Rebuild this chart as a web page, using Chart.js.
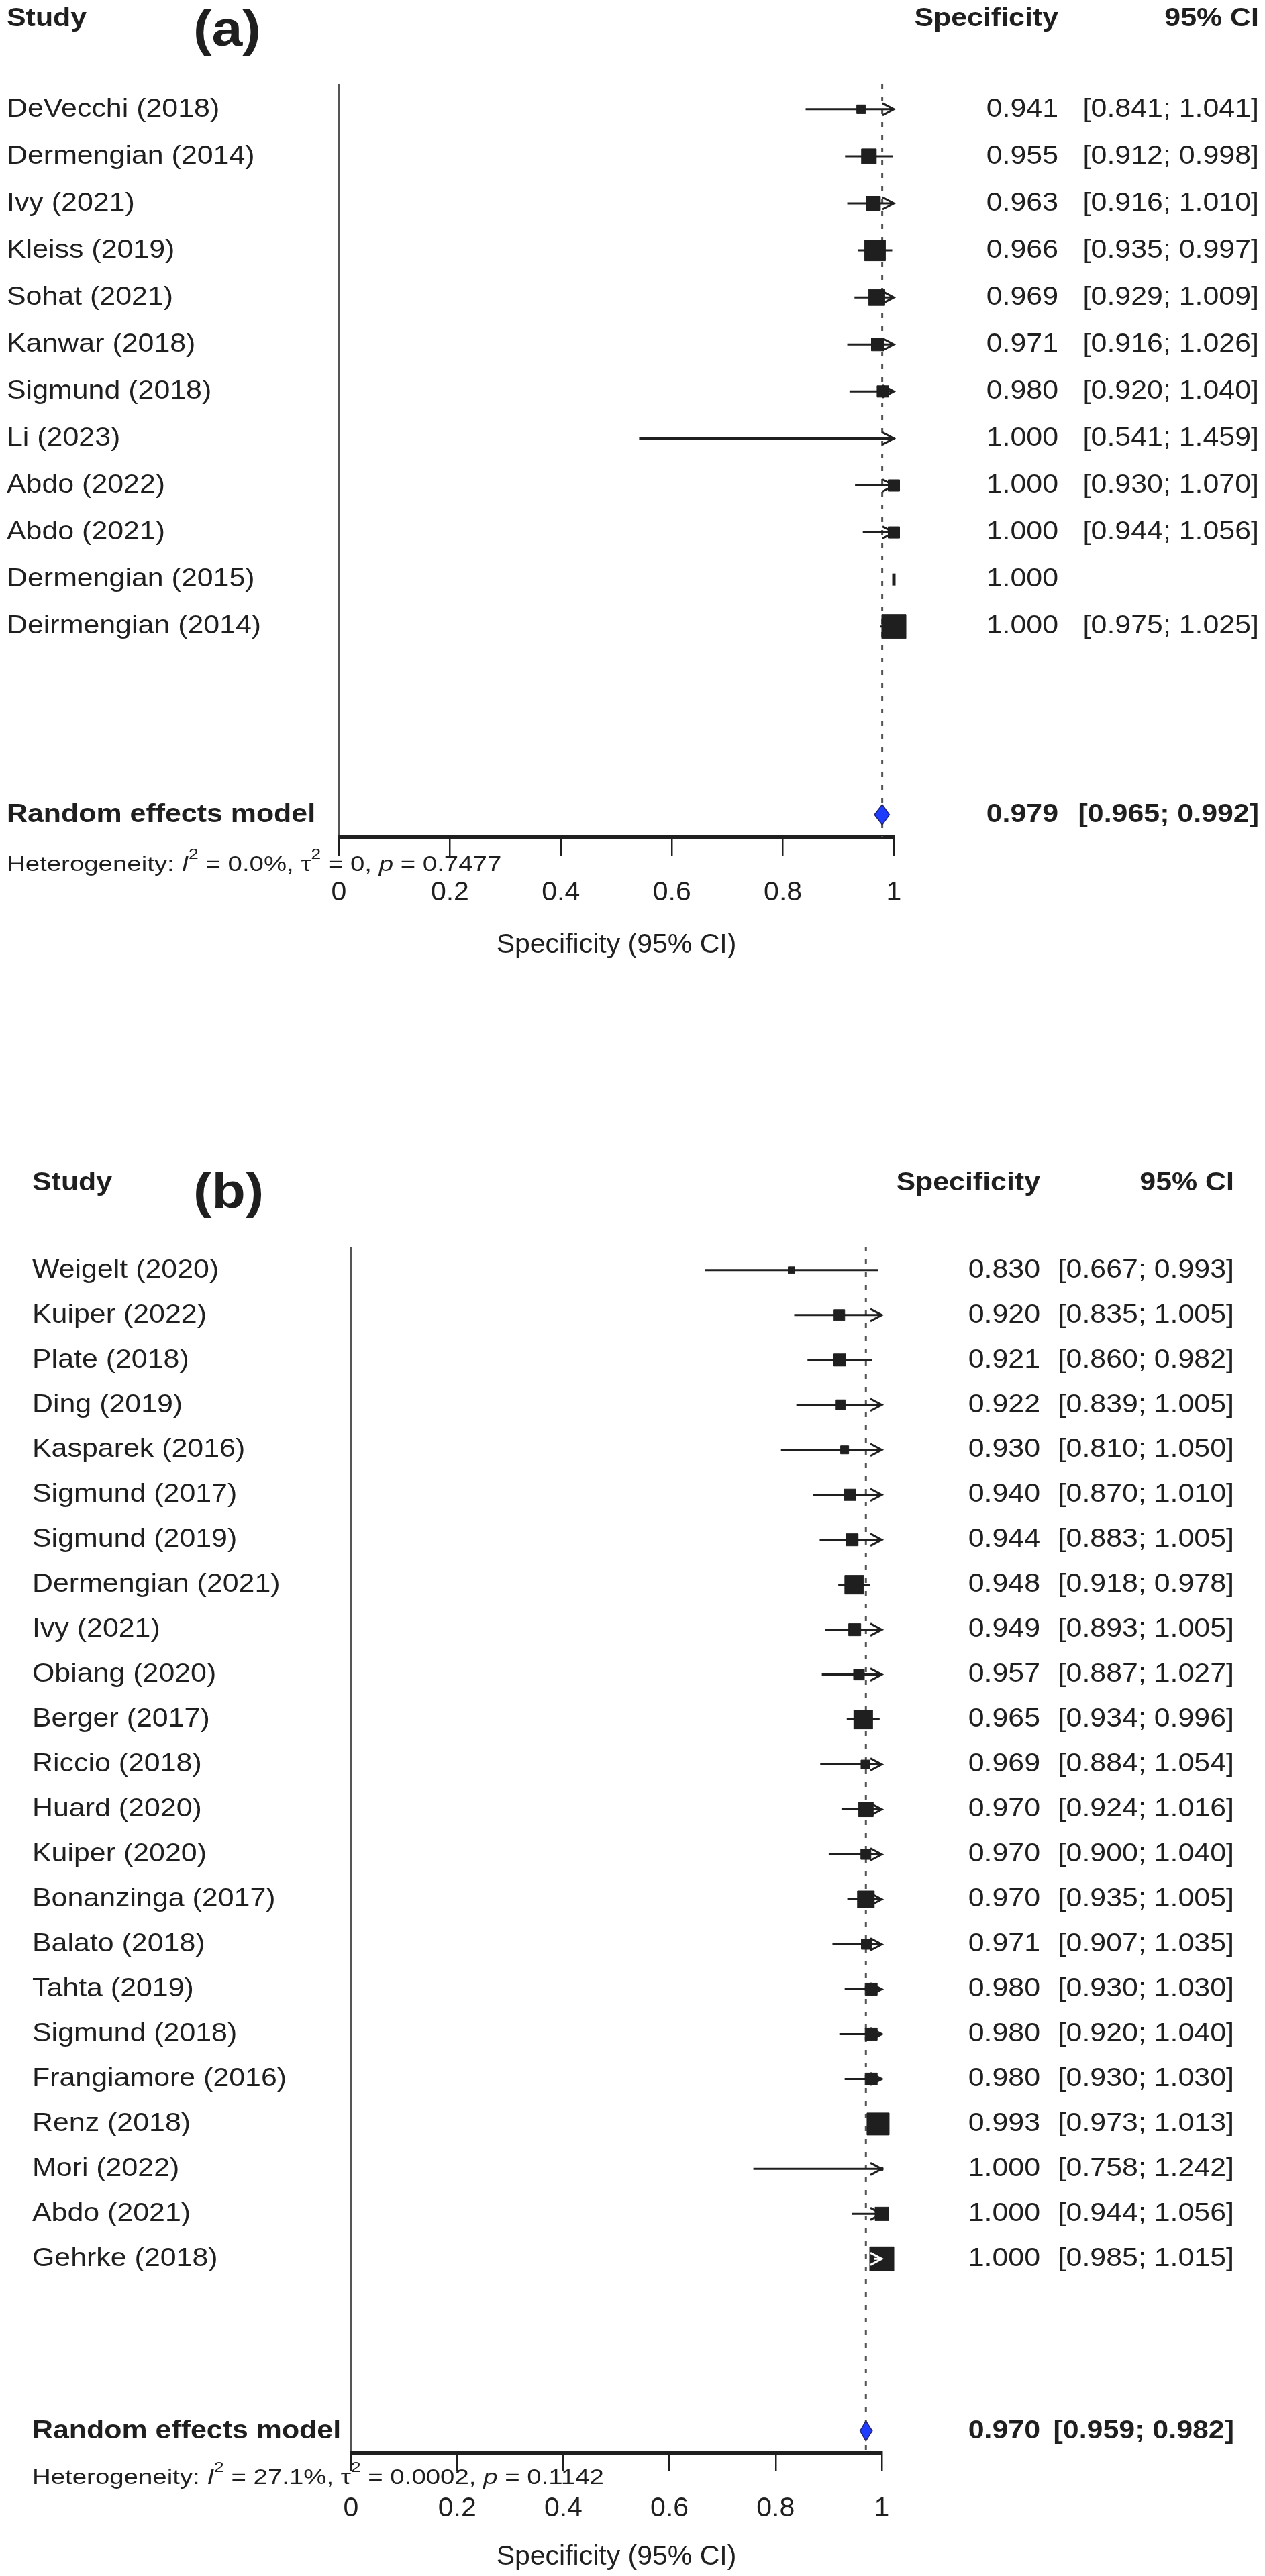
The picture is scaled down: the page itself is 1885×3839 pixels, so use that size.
<!DOCTYPE html>
<html lang="en">
<head>
  <meta charset="UTF-8">
  <title>Forest plot - Specificity</title>
  <script src="https://cdn.jsdelivr.net/npm/chart.js"></script>
  <style>
    html, body { margin: 0; padding: 0; background: #fff; }
    body { width: 1885px; height: 3839px; position: relative; overflow: hidden; }
    canvas { position: absolute; left: 0; }
    #plotA { top: 0; }
    #plotB { top: 1680px; }
  </style>
</head>
<body>
<canvas id="plotA" width="1885" height="1480"></canvas>
<canvas id="plotB" width="1885" height="2159"></canvas>

<script>
// ---- data (a) ----
const studiesA = ["DeVecchi (2018)", "Dermengian (2014)", "Ivy (2021)", "Kleiss (2019)", "Sohat (2021)",
  "Kanwar (2018)", "Sigmund (2018)", "Li (2023)", "Abdo (2022)", "Abdo (2021)", "Dermengian (2015)", "Deirmengian (2014)"];
const specA  = [0.941, 0.955, 0.963, 0.966, 0.969, 0.971, 0.980, 1.000, 1.000, 1.000, 1.000, 1.000];
const lowerA = [0.841, 0.912, 0.916, 0.935, 0.929, 0.916, 0.920, 0.541, 0.930, 0.944, null, 0.975];
const upperA = [1.041, 0.998, 1.010, 0.997, 1.009, 1.026, 1.040, 1.459, 1.070, 1.056, null, 1.025];
const weightA = [3.3, 9.4, 8.5, 18.6, 11.2, 7.0, 5.6, 0.2, 5.6, 5.6, 0, 25.1];
const pooledA = [0.979, 0.965, 0.992];
const hetA = ["0.0%", "0", "0.7477"];

// ---- data (b) ----
const studiesB = ["Weigelt (2020)", "Kuiper (2022)", "Plate (2018)", "Ding (2019)", "Kasparek (2016)",
  "Sigmund (2017)", "Sigmund (2019)", "Dermengian (2021)", "Ivy (2021)", "Obiang (2020)", "Berger (2017)",
  "Riccio (2018)", "Huard (2020)", "Kuiper (2020)", "Bonanzinga (2017)", "Balato (2018)", "Tahta (2019)",
  "Sigmund (2018)", "Frangiamore (2016)", "Renz (2018)", "Mori (2022)", "Abdo (2021)", "Gehrke (2018)"];
const specB  = [0.830, 0.920, 0.921, 0.922, 0.930, 0.940, 0.944, 0.948, 0.949, 0.957, 0.965, 0.969,
  0.970, 0.970, 0.970, 0.971, 0.980, 0.980, 0.980, 0.993, 1.000, 1.000, 1.000];
const lowerB = [0.667, 0.835, 0.860, 0.839, 0.810, 0.870, 0.883, 0.918, 0.893, 0.887, 0.934, 0.884,
  0.924, 0.900, 0.935, 0.907, 0.930, 0.920, 0.930, 0.973, 0.758, 0.944, 0.985];
const upperB = [0.993, 1.005, 0.982, 1.005, 1.050, 1.010, 1.005, 0.978, 1.005, 1.027, 0.996, 1.054,
  1.016, 1.040, 1.005, 1.035, 1.030, 1.040, 1.030, 1.013, 1.242, 1.056, 1.015];
const weightB = [1.07, 2.75, 3.48, 2.42, 1.55, 3.10, 3.48, 8.42, 3.48, 2.75, 8.42, 1.82,
  5.20, 2.42, 6.71, 2.42, 3.48, 3.48, 3.48, 11.70, 0.17, 4.30, 13.92];
const pooledB = [0.970, 0.959, 0.982];
const hetB = ["27.1%", "0.0002", "0.1142"];

const xTicks = [0, 0.2, 0.4, 0.6, 0.8, 1];

const FONT = '"Liberation Sans", Arial, Helvetica, sans-serif';
const INK = '#1f1f1f';
const SX = 1.1;   // text in the picture is a little wide

function txt(ctx, s, x, y, align, font, base) {
  ctx.save();
  ctx.font = font;
  ctx.fillStyle = INK;
  ctx.textAlign = align;
  ctx.textBaseline = base || 'middle';
  ctx.translate(x, y);
  ctx.scale(SX, 1);
  ctx.fillText(s, 0, 0);
  ctx.restore();
}

function ciText(lo, hi) {
  if (lo == null) return '';
  return '[' + lo.toFixed(3) + '; ' + hi.toFixed(3) + ']';
}

// CI line, clipped at the axis end, with an open arrow when it runs past
function ciPath(ctx, x, y, lo, hi, row) {
  const py = y.getPixelForValue(row);
  const x0 = x.getPixelForValue(Math.max(lo, x.min));
  const x1 = x.getPixelForValue(Math.min(hi, x.max));
  ctx.beginPath();
  ctx.moveTo(x0, py);
  ctx.lineTo(x1, py);
  if (hi > x.max) {
    ctx.moveTo(x1 - 17, py - 9);
    ctx.lineTo(x1, py);
    ctx.lineTo(x1 - 17, py + 9);
  }
  ctx.stroke();
}

function drawHet(ctx, x0, yb, het) {
  const size = 32;
  const parts = [
    ['Heterogeneity: ', '', 0], ['I', 'italic ', 0], ['2', '', 1], [' = ' + het[0] + ', ', '', 0],
    ['\u03c4', '', 0], ['2', '', 1], [' = ' + het[1] + ', ', '', 0], ['p', 'italic ', 0], [' = ' + het[2], '', 0]
  ];
  ctx.save();
  ctx.fillStyle = INK;
  ctx.textBaseline = 'alphabetic';
  ctx.translate(x0, yb);
  ctx.scale(1.2, 1);
  let cx = 0;
  parts.forEach(([s, st, sup]) => {
    const fs = sup ? Math.round(size * 0.7) : size;
    ctx.font = st + fs + 'px ' + FONT;
    ctx.fillText(s, cx, sup ? -size * 0.55 : 0);
    cx += ctx.measureText(s).width;
  });
  ctx.restore();
}

const forestPlugin = {
  id: 'forest',
  beforeDatasetsDraw(chart, args, o) {
    const { ctx, chartArea: area, scales: { x, y } } = chart;
    // dotted line at the pooled estimate
    const px = x.getPixelForValue(o.pooled[0]);
    ctx.save();
    ctx.strokeStyle = '#555';
    ctx.lineWidth = 3;
    ctx.setLineDash([7, 12]);
    ctx.beginPath();
    ctx.moveTo(px, area.top);
    ctx.lineTo(px, area.bottom);
    ctx.stroke();
    ctx.restore();

    ctx.save();
    ctx.strokeStyle = INK;
    ctx.lineWidth = 3;
    o.lower.forEach((lo, i) => {
      if (lo == null) return;
      ciPath(ctx, x, y, lo, o.upper[i], i);
    });
    ctx.restore();
  },
  afterDatasetsDraw(chart, args, o) {
    const { ctx, scales: { x, y } } = chart;
    // CI that sits well inside its box is drawn white
    ctx.save();
    ctx.strokeStyle = '#fff';
    ctx.lineWidth = 3;
    o.lower.forEach((lo, i) => {
      if (lo == null) return;
      const half = o.boxScale * Math.sqrt(o.weight[i]) / 2 - 3;
      const c = x.getPixelForValue(o.est[i]);
      const a = x.getPixelForValue(lo);
      const b = x.getPixelForValue(Math.min(o.upper[i], x.max));
      if (a >= c - half && b <= c + half + 3) ciPath(ctx, x, y, lo, o.upper[i], i);
    });
    ctx.restore();

    // pooled diamond
    const py = y.getPixelForValue(o.pooledRow);
    const pe = x.getPixelForValue(o.pooled[0]);
    const pl = x.getPixelForValue(o.pooled[1]);
    const ph = x.getPixelForValue(o.pooled[2]);
    ctx.save();
    ctx.beginPath();
    ctx.moveTo(pl, py);
    ctx.lineTo(pe, py - 15);
    ctx.lineTo(ph, py);
    ctx.lineTo(pe, py + 15);
    ctx.closePath();
    ctx.fillStyle = '#1f3dff';
    ctx.fill();
    ctx.strokeStyle = '#222266';
    ctx.lineWidth = 1.5;
    ctx.stroke();
    ctx.restore();
  },
  afterDraw(chart, args, o) {
    const { ctx, scales: { y } } = chart;
    const reg = '39px ' + FONT, bold = 'bold 39px ' + FONT;
    // headers
    txt(ctx, 'Study', o.left, o.headerY, 'left', bold);
    txt(ctx, 'Specificity', o.estRight, o.headerY, 'right', bold);
    txt(ctx, '95% CI', o.ciRight, o.headerY, 'right', bold);
    txt(ctx, o.label, 288, o.labelBase, 'left', 'bold 75px ' + FONT, 'alphabetic');
    // study rows
    o.studies.forEach((s, i) => {
      const py = y.getPixelForValue(i);
      txt(ctx, s, o.left, py, 'left', reg);
      txt(ctx, o.est[i].toFixed(3), o.estRight, py, 'right', reg);
      txt(ctx, ciText(o.lower[i], o.upper[i]), o.ciRight, py, 'right', reg);
    });
    // pooled row
    const py = y.getPixelForValue(o.pooledRow);
    txt(ctx, 'Random effects model', o.left, py, 'left', bold);
    txt(ctx, o.pooled[0].toFixed(3), o.estRight, py, 'right', bold);
    txt(ctx, ciText(o.pooled[1], o.pooled[2]), o.ciRight, py, 'right', bold);
    drawHet(ctx, o.left, o.hetBase, o.het);
  }
};

function makeForest(id, d, lay) {
  const pts = d.est.map((v, i) => ({ x: v, y: i }));
  const noCI = d.lower.map(v => v == null);
  new Chart(document.getElementById(id), {
    type: 'scatter',
    data: {
      datasets: [{
        data: pts,
        clip: false,
        backgroundColor: INK,
        borderColor: INK,
        borderWidth: noCI.map(n => n ? 5 : 1),
        pointStyle: noCI.map(n => n ? 'line' : 'rect'),
        rotation: noCI.map(n => n ? 90 : 0),
        pointRadius: d.weight.map((w, i) => noCI[i] ? 9 : lay.boxScale * Math.sqrt(w) / Math.SQRT2),
        pointHoverRadius: 0
      }]
    },
    options: {
      responsive: false,
      devicePixelRatio: 1,
      animation: false,
      events: [],
      layout: { padding: lay.padding },
      scales: {
        x: {
          type: 'linear',
          min: 0,
          max: 1,
          afterBuildTicks: s => { s.ticks = xTicks.map(v => ({ value: v })); },
          afterFit: s => { s.height = lay.axisH; },
          border: { display: true, width: 5, color: INK },
          grid: {
            drawOnChartArea: true,
            color: c => (c.tick && c.tick.value === 0) ? '#555' : 'rgba(0,0,0,0)',
            lineWidth: 2.5,
            drawTicks: true,
            tickLength: 28,
            tickWidth: 2.5,
            tickColor: INK
          },
          ticks: {
            padding: lay.tickPad,
            color: INK,
            maxRotation: 0,
            font: { family: FONT, size: 41 },
            callback: v => String(+v.toFixed(1))
          },
          title: {
            display: true,
            text: 'Specificity (95% CI)',
            color: INK,
            font: { family: FONT, size: 41 },
            padding: { top: 0, bottom: lay.titlePad }
          }
        },
        y: { type: 'linear', display: false, reverse: true, min: lay.yMin, max: lay.yMax }
      },
      plugins: {
        legend: { display: false },
        tooltip: { enabled: false },
        forest: Object.assign({}, d, lay)
      }
    },
    plugins: [forestPlugin]
  });
}

makeForest('plotA',
  { studies: studiesA, est: specA, lower: lowerA, upper: upperA, weight: weightA, pooled: pooledA, het: hetA, label: '(a)' },
  { padding: { left: 505, right: 553, top: 125, bottom: 43 }, axisH: 190, tickPad: 31, titlePad: 4,
    yMin: -0.54, yMax: 15.47, pooledRow: 15, boxScale: 7.19,
    left: 10, estRight: 1577, ciRight: 1876, headerY: 28, labelBase: 68, hetBase: 1298 });

makeForest('plotB',
  { studies: studiesB, est: specB, lower: lowerB, upper: upperB, weight: weightB, pooled: pooledB, het: hetB, label: '(b)' },
  { padding: { left: 523, right: 571, top: 178, bottom: 4 }, axisH: 180, tickPad: 31, titlePad: 0,
    yMin: -0.52, yMax: 26.31, pooledRow: 25.83, boxScale: 9.65,
    left: 48, estRight: 1550, ciRight: 1839, headerY: 83, labelBase: 120, hetBase: 2022 });
</script>
</body>
</html>
